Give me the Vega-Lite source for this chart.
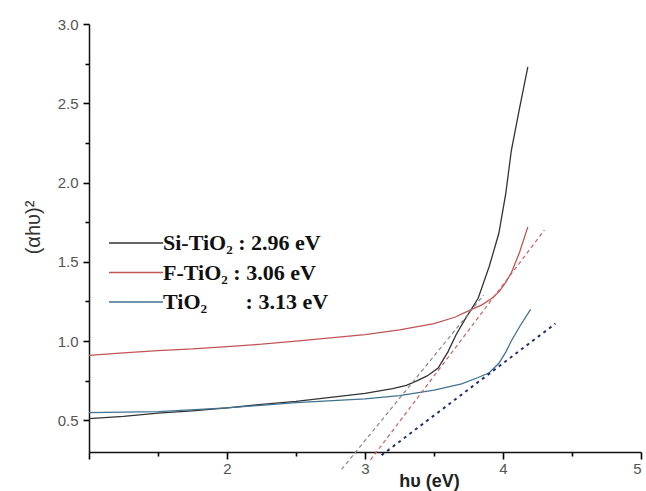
{
  "$schema": "https://vega.github.io/schema/vega-lite/v6.json",
  "width": 552,
  "height": 428,
  "autosize": {"type": "none"},
  "padding": {"left": 89, "top": 24, "right": 5, "bottom": 39},
  "background": "white",
  "config": {
    "view": {"stroke": null},
    "axis": {"grid": false, "domainColor": "#111", "domainWidth": 1.5, "labelColor": "#555", "labelFont": "Liberation Sans", "labelFontSize": 15}
  },
  "datasets": {
    "curves": [
      {"series": "Si-TiO₂ : 2.96 eV", "x": 1.0, "y": 0.51},
      {"series": "Si-TiO₂ : 2.96 eV", "x": 1.25, "y": 0.525},
      {"series": "Si-TiO₂ : 2.96 eV", "x": 1.5, "y": 0.545},
      {"series": "Si-TiO₂ : 2.96 eV", "x": 1.75, "y": 0.56},
      {"series": "Si-TiO₂ : 2.96 eV", "x": 2.0, "y": 0.578},
      {"series": "Si-TiO₂ : 2.96 eV", "x": 2.25, "y": 0.6},
      {"series": "Si-TiO₂ : 2.96 eV", "x": 2.5, "y": 0.62},
      {"series": "Si-TiO₂ : 2.96 eV", "x": 2.75, "y": 0.645},
      {"series": "Si-TiO₂ : 2.96 eV", "x": 3.0, "y": 0.67},
      {"series": "Si-TiO₂ : 2.96 eV", "x": 3.2, "y": 0.7},
      {"series": "Si-TiO₂ : 2.96 eV", "x": 3.3, "y": 0.72},
      {"series": "Si-TiO₂ : 2.96 eV", "x": 3.38, "y": 0.75},
      {"series": "Si-TiO₂ : 2.96 eV", "x": 3.45, "y": 0.78},
      {"series": "Si-TiO₂ : 2.96 eV", "x": 3.53, "y": 0.83},
      {"series": "Si-TiO₂ : 2.96 eV", "x": 3.6, "y": 0.93},
      {"series": "Si-TiO₂ : 2.96 eV", "x": 3.66, "y": 1.04},
      {"series": "Si-TiO₂ : 2.96 eV", "x": 3.72, "y": 1.13},
      {"series": "Si-TiO₂ : 2.96 eV", "x": 3.77, "y": 1.2},
      {"series": "Si-TiO₂ : 2.96 eV", "x": 3.82, "y": 1.27},
      {"series": "Si-TiO₂ : 2.96 eV", "x": 3.9, "y": 1.47},
      {"series": "Si-TiO₂ : 2.96 eV", "x": 3.97, "y": 1.68},
      {"series": "Si-TiO₂ : 2.96 eV", "x": 4.02, "y": 1.93},
      {"series": "Si-TiO₂ : 2.96 eV", "x": 4.06, "y": 2.2},
      {"series": "Si-TiO₂ : 2.96 eV", "x": 4.12, "y": 2.47},
      {"series": "Si-TiO₂ : 2.96 eV", "x": 4.18, "y": 2.73},
      {"series": "F-TiO₂ : 3.06 eV", "x": 1.0, "y": 0.91},
      {"series": "F-TiO₂ : 3.06 eV", "x": 1.25, "y": 0.925},
      {"series": "F-TiO₂ : 3.06 eV", "x": 1.5, "y": 0.94},
      {"series": "F-TiO₂ : 3.06 eV", "x": 1.75, "y": 0.95},
      {"series": "F-TiO₂ : 3.06 eV", "x": 2.0, "y": 0.965},
      {"series": "F-TiO₂ : 3.06 eV", "x": 2.25, "y": 0.98},
      {"series": "F-TiO₂ : 3.06 eV", "x": 2.5, "y": 1.0},
      {"series": "F-TiO₂ : 3.06 eV", "x": 2.75, "y": 1.02},
      {"series": "F-TiO₂ : 3.06 eV", "x": 3.0, "y": 1.04},
      {"series": "F-TiO₂ : 3.06 eV", "x": 3.25, "y": 1.07},
      {"series": "F-TiO₂ : 3.06 eV", "x": 3.5, "y": 1.11},
      {"series": "F-TiO₂ : 3.06 eV", "x": 3.65, "y": 1.15},
      {"series": "F-TiO₂ : 3.06 eV", "x": 3.75, "y": 1.19},
      {"series": "F-TiO₂ : 3.06 eV", "x": 3.85, "y": 1.23},
      {"series": "F-TiO₂ : 3.06 eV", "x": 3.92, "y": 1.27},
      {"series": "F-TiO₂ : 3.06 eV", "x": 3.97, "y": 1.31},
      {"series": "F-TiO₂ : 3.06 eV", "x": 4.02, "y": 1.37},
      {"series": "F-TiO₂ : 3.06 eV", "x": 4.06, "y": 1.43},
      {"series": "F-TiO₂ : 3.06 eV", "x": 4.12, "y": 1.56},
      {"series": "F-TiO₂ : 3.06 eV", "x": 4.18, "y": 1.72},
      {"series": "TiO₂\u00a0\u00a0\u00a0\u00a0\u00a0\u00a0\u00a0: 3.13 eV", "x": 1.0, "y": 0.548},
      {"series": "TiO₂\u00a0\u00a0\u00a0\u00a0\u00a0\u00a0\u00a0: 3.13 eV", "x": 1.5, "y": 0.555},
      {"series": "TiO₂\u00a0\u00a0\u00a0\u00a0\u00a0\u00a0\u00a0: 3.13 eV", "x": 2.0, "y": 0.578},
      {"series": "TiO₂\u00a0\u00a0\u00a0\u00a0\u00a0\u00a0\u00a0: 3.13 eV", "x": 2.5, "y": 0.612},
      {"series": "TiO₂\u00a0\u00a0\u00a0\u00a0\u00a0\u00a0\u00a0: 3.13 eV", "x": 3.0, "y": 0.635},
      {"series": "TiO₂\u00a0\u00a0\u00a0\u00a0\u00a0\u00a0\u00a0: 3.13 eV", "x": 3.25, "y": 0.655},
      {"series": "TiO₂\u00a0\u00a0\u00a0\u00a0\u00a0\u00a0\u00a0: 3.13 eV", "x": 3.5, "y": 0.69},
      {"series": "TiO₂\u00a0\u00a0\u00a0\u00a0\u00a0\u00a0\u00a0: 3.13 eV", "x": 3.7, "y": 0.73},
      {"series": "TiO₂\u00a0\u00a0\u00a0\u00a0\u00a0\u00a0\u00a0: 3.13 eV", "x": 3.82, "y": 0.77},
      {"series": "TiO₂\u00a0\u00a0\u00a0\u00a0\u00a0\u00a0\u00a0: 3.13 eV", "x": 3.9, "y": 0.8},
      {"series": "TiO₂\u00a0\u00a0\u00a0\u00a0\u00a0\u00a0\u00a0: 3.13 eV", "x": 3.97, "y": 0.86},
      {"series": "TiO₂\u00a0\u00a0\u00a0\u00a0\u00a0\u00a0\u00a0: 3.13 eV", "x": 4.02, "y": 0.93},
      {"series": "TiO₂\u00a0\u00a0\u00a0\u00a0\u00a0\u00a0\u00a0: 3.13 eV", "x": 4.06, "y": 1.0},
      {"series": "TiO₂\u00a0\u00a0\u00a0\u00a0\u00a0\u00a0\u00a0: 3.13 eV", "x": 4.12, "y": 1.09},
      {"series": "TiO₂\u00a0\u00a0\u00a0\u00a0\u00a0\u00a0\u00a0: 3.13 eV", "x": 4.2, "y": 1.2}
    ],
    "fits": [
      {"fit": "Si", "x": 2.83, "y": 0.19},
      {"fit": "Si", "x": 3.86, "y": 1.29},
      {"fit": "F", "x": 3.04, "y": 0.25},
      {"fit": "F", "x": 4.3, "y": 1.7},
      {"fit": "Ti", "x": 3.12, "y": 0.28},
      {"fit": "Ti", "x": 4.38, "y": 1.11}
    ]
  },
  "layer": [
    {
      "data": {"name": "curves"},
      "mark": {"type": "line", "strokeWidth": 1.3},
      "encoding": {
        "x": {"field": "x", "type": "quantitative", "scale": {"domain": [1, 5], "nice": false},
          "axis": {"values": [1, 1.5, 2, 2.5, 3, 3.5, 4, 4.5, 5], "labelExpr": "datum.value % 1 == 0 && datum.value > 1 ? format(datum.value, 'd') : ''",
            "ticks": true, "tickColor": "#000", "tickWidth": 1.6,
            "tickSize": {"condition": {"test": "datum.value % 1 == 0", "value": 7}, "value": 4},
            "labelPadding": 2,
            "title": "hυ (eV)", "titleFont": "Liberation Sans", "titleFontSize": 18, "titleFontWeight": "bold", "titleColor": "#222", "titleX": 340, "titleY": 34, "titleBaseline": "alphabetic"}},
        "y": {"field": "y", "type": "quantitative", "scale": {"domain": [0.3, 3.0], "nice": false},
          "axis": {"values": [0.5, 0.75, 1.0, 1.25, 1.5, 1.75, 2.0, 2.25, 2.5, 2.75, 3.0], "labelExpr": "(datum.value * 2) % 1 == 0 ? format(datum.value, '.1f') : ''",
            "ticks": true, "tickColor": "#000", "tickWidth": 1.6,
            "tickSize": {"condition": {"test": "(datum.value * 2) % 1 == 0", "value": 6}, "value": 4},
            "labelPadding": 5,
            "title": "(αhυ)²", "titleFont": "Liberation Sans", "titleFontSize": 20, "titleFontWeight": "normal", "titleColor": "#333", "titlePadding": 14, "titleY": 203}},
        "color": {"field": "series", "type": "nominal",
          "scale": {"domain": ["Si-TiO₂ : 2.96 eV", "F-TiO₂ : 3.06 eV", "TiO₂\u00a0\u00a0\u00a0\u00a0\u00a0\u00a0\u00a0: 3.13 eV"], "range": ["#333333", "#c05555", "#3f7390"]},
          "legend": {"title": null, "orient": "none", "legendX": 36, "legendY": 208, "padding": 0,
            "symbolType": "M-6,0H6", "symbolSize": 81, "symbolStrokeWidth": 1.5, "labelOffset": 16, "rowPadding": 7.5,
            "labelFont": "Liberation Serif", "labelFontSize": 22, "labelFontWeight": "bold", "labelColor": "#111", "labelLimit": 300}}
      }
    },
    {
      "data": {"name": "fits"},
      "transform": [{"filter": "datum.fit == 'Si'"}],
      "mark": {"type": "line", "color": "#8a8a8a", "strokeWidth": 1.2, "strokeDash": [4, 3]},
      "encoding": {
        "x": {"field": "x", "type": "quantitative"},
        "y": {"field": "y", "type": "quantitative"}
      }
    },
    {
      "data": {"name": "fits"},
      "transform": [{"filter": "datum.fit == 'F'"}],
      "mark": {"type": "line", "color": "#d06060", "strokeWidth": 1.2, "strokeDash": [4, 3]},
      "encoding": {
        "x": {"field": "x", "type": "quantitative"},
        "y": {"field": "y", "type": "quantitative"}
      }
    },
    {
      "data": {"name": "fits"},
      "transform": [{"filter": "datum.fit == 'Ti'"}],
      "mark": {"type": "line", "color": "#1f2f6f", "strokeWidth": 2, "strokeDash": [3, 4]},
      "encoding": {
        "x": {"field": "x", "type": "quantitative"},
        "y": {"field": "y", "type": "quantitative"}
      }
    }
  ]
}
